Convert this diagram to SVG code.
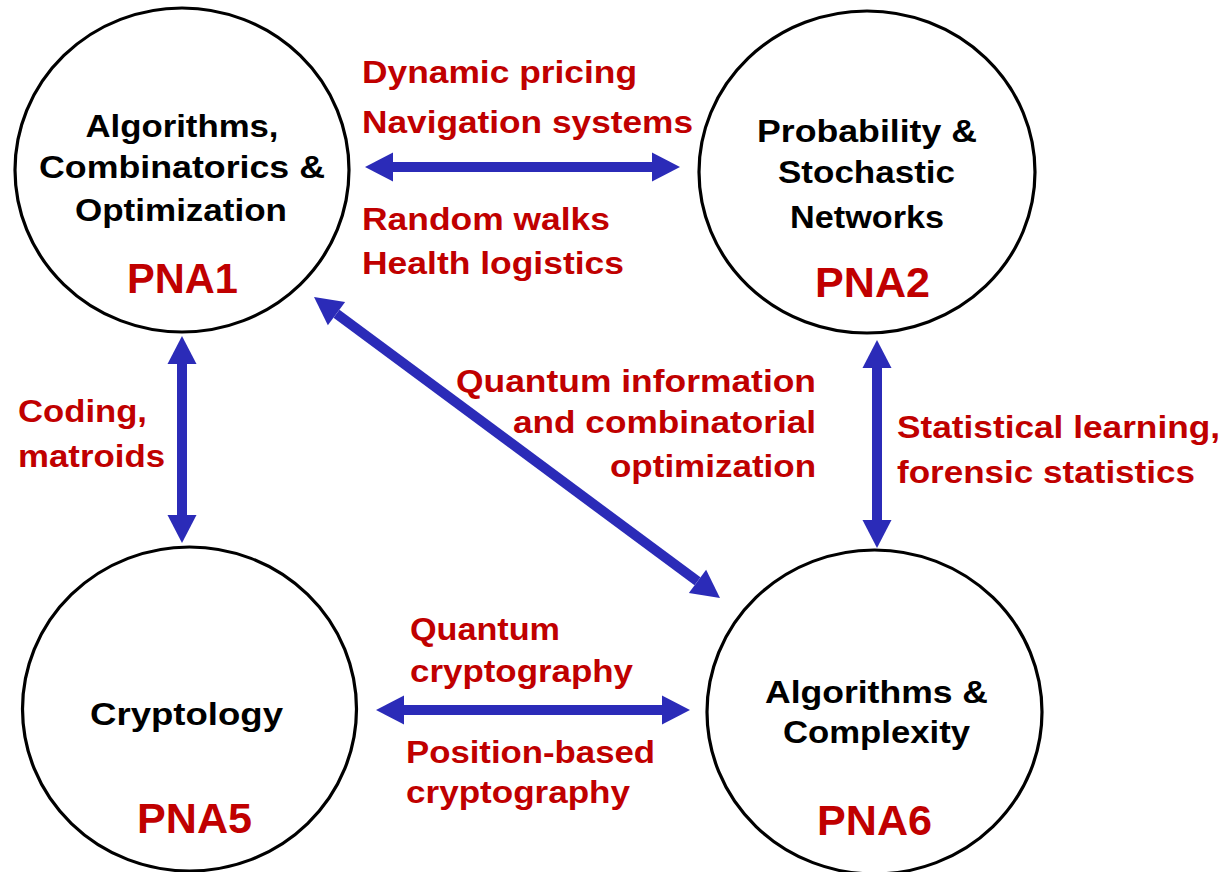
<svg xmlns="http://www.w3.org/2000/svg" width="1224" height="872" viewBox="0 0 1224 872">
<defs>
<marker id="ah" markerUnits="userSpaceOnUse" markerWidth="30" markerHeight="30" refX="0" refY="0" viewBox="0 -15 30 30" orient="auto-start-reverse" overflow="visible">
<path d="M0,-14.5 L28,0 L0,14.5 Z" fill="#2b2bb8"/>
</marker>
<style>
.node{fill:#fff;stroke:#000;stroke-width:3.2}
.t{font-family:"Liberation Sans",Arial,Helvetica,sans-serif;font-weight:bold;font-size:32px;fill:#000;text-anchor:middle}
.id{font-family:"Liberation Sans",Arial,Helvetica,sans-serif;font-weight:bold;font-size:42px;fill:#c00000;text-anchor:middle}
.r{font-family:"Liberation Sans",Arial,Helvetica,sans-serif;font-weight:bold;font-size:32px;fill:#c00000}
.re{text-anchor:end}
.c{stroke:#2b2bb8;stroke-width:10;fill:none;marker-start:url(#ah);marker-end:url(#ah)}
</style>
</defs>
<rect width="1224" height="872" fill="#fff"/>
<g id="PNA1">
<ellipse class="node" cx="182" cy="170" rx="167" ry="162"/>
<text class="t" x="182" y="137" textLength="193" lengthAdjust="spacingAndGlyphs">Algorithms,</text>
<text class="t" x="182" y="178" textLength="286" lengthAdjust="spacingAndGlyphs">Combinatorics &amp;</text>
<text class="t" x="181" y="221" textLength="212" lengthAdjust="spacingAndGlyphs">Optimization</text>
<text class="id" x="182.5" y="293" textLength="111" lengthAdjust="spacingAndGlyphs">PNA1</text>
</g>
<g id="PNA2">
<ellipse class="node" cx="867" cy="172" rx="168" ry="161"/>
<text class="t" x="867" y="142" textLength="220" lengthAdjust="spacingAndGlyphs">Probability &amp;</text>
<text class="t" x="866.5" y="183" textLength="177" lengthAdjust="spacingAndGlyphs">Stochastic</text>
<text class="t" x="867" y="228" textLength="154" lengthAdjust="spacingAndGlyphs">Networks</text>
<text class="id" x="872.5" y="297" textLength="115" lengthAdjust="spacingAndGlyphs">PNA2</text>
</g>
<g id="PNA5">
<ellipse class="node" cx="189.5" cy="709" rx="167" ry="162"/>
<text class="t" x="186.5" y="725" textLength="193" lengthAdjust="spacingAndGlyphs">Cryptology</text>
<text class="id" x="194.5" y="833" textLength="115" lengthAdjust="spacingAndGlyphs">PNA5</text>
</g>
<g id="PNA6">
<ellipse class="node" cx="874.5" cy="712" rx="167.5" ry="162"/>
<text class="t" x="876.5" y="703" textLength="223" lengthAdjust="spacingAndGlyphs">Algorithms &amp;</text>
<text class="t" x="876.5" y="743" textLength="187" lengthAdjust="spacingAndGlyphs">Complexity</text>
<text class="id" x="874.5" y="835" textLength="115" lengthAdjust="spacingAndGlyphs">PNA6</text>
</g>
<g id="connectors">
<line class="c" x1="393" y1="167" x2="652" y2="167"/>
<line class="c" x1="404" y1="710" x2="662" y2="710"/>
<line class="c" x1="182" y1="364" x2="182" y2="515"/>
<line class="c" x1="877" y1="368" x2="877" y2="520"/>
<line class="c" x1="336.5" y1="313.7" x2="697.5" y2="581.3"/>
</g>
<g id="labels">
<text class="r" x="362" y="83" textLength="275" lengthAdjust="spacingAndGlyphs">Dynamic pricing</text>
<text class="r" x="362" y="133" textLength="331" lengthAdjust="spacingAndGlyphs">Navigation systems</text>
<text class="r" x="362" y="230" textLength="248" lengthAdjust="spacingAndGlyphs">Random walks</text>
<text class="r" x="362" y="274" textLength="262" lengthAdjust="spacingAndGlyphs">Health logistics</text>
<text class="r" x="18" y="422" textLength="129" lengthAdjust="spacingAndGlyphs">Coding,</text>
<text class="r" x="18" y="467" textLength="147" lengthAdjust="spacingAndGlyphs">matroids</text>
<text class="r re" x="816" y="392" textLength="360" lengthAdjust="spacingAndGlyphs">Quantum information</text>
<text class="r re" x="816" y="433" textLength="303" lengthAdjust="spacingAndGlyphs">and combinatorial</text>
<text class="r re" x="816" y="477" textLength="206" lengthAdjust="spacingAndGlyphs">optimization</text>
<text class="r" x="897" y="438" textLength="323" lengthAdjust="spacingAndGlyphs">Statistical learning,</text>
<text class="r" x="897" y="483" textLength="298" lengthAdjust="spacingAndGlyphs">forensic statistics</text>
<text class="r" x="410" y="640" textLength="150" lengthAdjust="spacingAndGlyphs">Quantum</text>
<text class="r" x="410" y="682" textLength="223" lengthAdjust="spacingAndGlyphs">cryptography</text>
<text class="r" x="406" y="763" textLength="249" lengthAdjust="spacingAndGlyphs">Position-based</text>
<text class="r" x="406" y="803" textLength="224" lengthAdjust="spacingAndGlyphs">cryptography</text>
</g>
</svg>
